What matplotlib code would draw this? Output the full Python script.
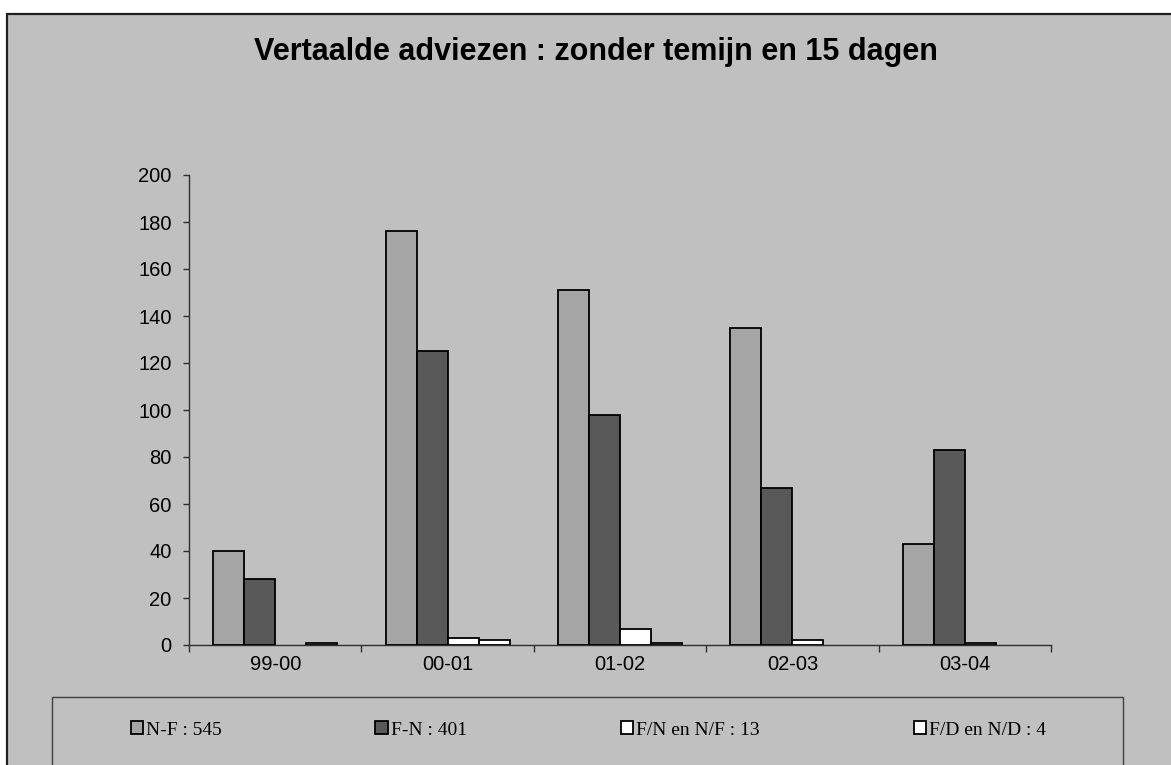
import numpy as np
import matplotlib
matplotlib.use('Agg')
import matplotlib.pyplot as plt
from matplotlib.patches import Rectangle, Patch

years = ['99-00', '00-01', '01-02', '02-03', '03-04']
nf = [40, 176, 151, 135, 43]      # N-F : 545
fn = [28, 125, 98, 67, 83]        # F-N : 401
fn_nf = [0, 3, 7, 2, 1]           # F/N en N/F : 13
fd_nd = [1, 2, 1, 0, 0]           # F/D en N/D : 4
labels = ['N-F : 545', 'F-N : 401', 'F/N en N/F : 13', 'F/D en N/D : 4']
colors = ['#a5a5a5', '#595959', '#ffffff', '#ffffff']

W, H = 1171, 765
bg = '#c0c0c0'
fig = plt.figure(figsize=(W / 100, H / 100), dpi=100, facecolor='white')

# outer chart area frame
fig.patches.append(Rectangle((7 / W, -0.1), 1.2, 1 - 14 / H + 0.1, transform=fig.transFigure,
                             facecolor=bg, edgecolor='#202020', linewidth=1.6, zorder=0))
# legend box
fig.patches.append(Rectangle((52 / W, -0.1), (1123 - 52) / W, 1 - 697 / H + 0.1, transform=fig.transFigure,
                             facecolor=bg, edgecolor='#404040', linewidth=1.0, zorder=1))

ax = fig.add_axes([189 / W, 1 - 645 / H, (1051 - 189) / W, (645 - 175) / H])
ax.set_zorder(5)
ax.set_facecolor('none')

x = np.arange(len(years))
bw = 0.18
for k, (vals, c) in enumerate(zip([nf, fn, fn_nf, fd_nd], colors)):
    # Excel draws nothing for a zero value
    lw = [1.3 if v else 0 for v in vals]
    ax.bar(x + (k - 1.5) * bw, vals, bw, align='center', color=c,
           edgecolor='black', linewidth=lw, zorder=3)

ax.set_xlim(-0.5, len(years) - 0.5)
ax.set_ylim(0, 200)
ax.set_yticks(range(0, 201, 20))
ax.set_xticks(np.arange(-0.5, len(years)), labels=[''] * (len(years) + 1))
ax.set_xticks(x, labels=years, minor=True)
ax.tick_params(axis='x', which='major', length=5, width=1, color='#303030', direction='out')
ax.tick_params(axis='x', which='minor', length=0, pad=7, labelsize=14.5)
ax.tick_params(axis='y', length=4.5, width=1, color='#303030', pad=8, labelsize=14.5)
for lab in ax.get_xticklabels(minor=True) + ax.get_yticklabels():
    lab.set_fontfamily('Liberation Sans')
for s in ['top', 'right']:
    ax.spines[s].set_visible(False)
for s in ['left', 'bottom']:
    ax.spines[s].set_color('#303030')
    ax.spines[s].set_linewidth(1.0)

fig.text(596 / W, 1 - 52 / H, 'Vertaalde adviezen : zonder temijn en 15 dagen',
         ha='center', va='center', fontsize=22, fontweight='bold', family='Liberation Sans')

handles = [Patch(facecolor=c, edgecolor='black', linewidth=1.3) for c in colors]
leg = fig.legend(handles, labels, loc='center left', bbox_to_anchor=(113 / W, 1 - 730 / H),
                 ncol=4, frameon=False, handlelength=0.65, handleheight=0.65, handletextpad=0.15,
                 columnspacing=7.9, prop={'family': 'Liberation Serif', 'size': 14})
leg.set_zorder(6)

fig.savefig('out.png', dpi=100, facecolor='white')
